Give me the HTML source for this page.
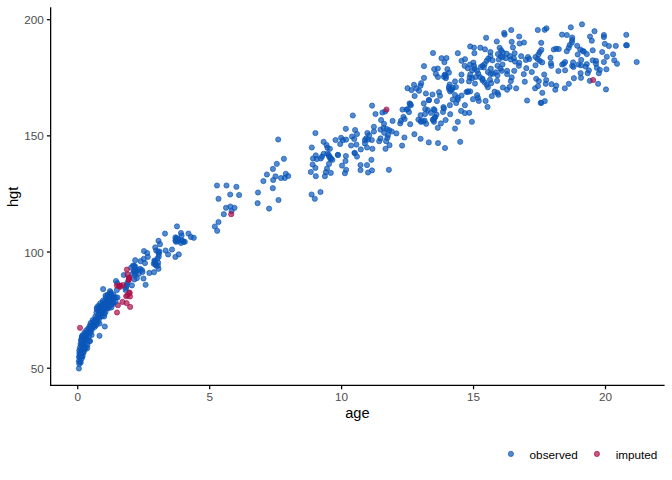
<!DOCTYPE html>
<html><head><meta charset="utf-8"><title>plot</title>
<style>
html,body{margin:0;padding:0;background:#fff;}
svg{display:block;font-family:"Liberation Sans",sans-serif;}
.b{fill:#0B57B8;stroke:#0B57B8;}
.r{fill:#A80F4A;stroke:#A80F4A;}
</style></head><body>
<svg width="672" height="480" viewBox="0 0 672 480">
<rect width="672" height="480" fill="#fff"/>
<g fill-opacity="0.7" stroke-opacity="0.7" stroke-width="0.94">
<circle class="r" cx="117.9" cy="305.2" r="2.6"/>
<circle class="b" cx="81.2" cy="340.2" r="2.6"/>
<circle class="b" cx="80.5" cy="344.0" r="2.6"/>
<circle class="b" cx="79.9" cy="347.6" r="2.6"/>
<circle class="b" cx="79.3" cy="350.4" r="2.6"/>
<circle class="b" cx="79.4" cy="353.3" r="2.6"/>
<circle class="b" cx="79.0" cy="356.9" r="2.6"/>
<circle class="b" cx="78.9" cy="361.2" r="2.6"/>
<circle class="b" cx="80.1" cy="361.7" r="2.6"/>
<circle class="b" cx="81.7" cy="358.6" r="2.6"/>
<circle class="b" cx="82.6" cy="356.3" r="2.6"/>
<circle class="b" cx="83.5" cy="352.8" r="2.6"/>
<circle class="b" cx="84.7" cy="350.0" r="2.6"/>
<circle class="b" cx="85.6" cy="347.5" r="2.6"/>
<circle class="b" cx="85.9" cy="344.0" r="2.6"/>
<circle class="b" cx="87.6" cy="339.8" r="2.6"/>
<circle class="b" cx="88.9" cy="336.4" r="2.6"/>
<circle class="b" cx="90.2" cy="333.0" r="2.6"/>
<circle class="b" cx="91.6" cy="330.4" r="2.6"/>
<circle class="b" cx="94.6" cy="327.1" r="2.6"/>
<circle class="b" cx="96.1" cy="325.2" r="2.6"/>
<circle class="b" cx="97.8" cy="322.1" r="2.6"/>
<circle class="b" cx="99.5" cy="318.3" r="2.6"/>
<circle class="b" cx="101.9" cy="316.2" r="2.6"/>
<circle class="b" cx="104.6" cy="314.0" r="2.6"/>
<circle class="b" cx="105.6" cy="311.7" r="2.6"/>
<circle class="b" cx="108.8" cy="308.1" r="2.6"/>
<circle class="b" cx="111.4" cy="307.4" r="2.6"/>
<circle class="b" cx="113.6" cy="303.8" r="2.6"/>
<circle class="b" cx="115.4" cy="301.4" r="2.6"/>
<circle class="b" cx="115.8" cy="297.5" r="2.6"/>
<circle class="b" cx="113.6" cy="294.7" r="2.6"/>
<circle class="b" cx="110.7" cy="292.3" r="2.6"/>
<circle class="b" cx="107.7" cy="294.6" r="2.6"/>
<circle class="b" cx="105.6" cy="297.5" r="2.6"/>
<circle class="b" cx="102.8" cy="300.8" r="2.6"/>
<circle class="b" cx="100.2" cy="303.4" r="2.6"/>
<circle class="b" cx="98.1" cy="306.0" r="2.6"/>
<circle class="b" cx="96.9" cy="309.2" r="2.6"/>
<circle class="b" cx="96.4" cy="312.5" r="2.6"/>
<circle class="b" cx="95.3" cy="316.7" r="2.6"/>
<circle class="b" cx="92.6" cy="320.2" r="2.6"/>
<circle class="b" cx="90.6" cy="323.1" r="2.6"/>
<circle class="b" cx="89.9" cy="325.6" r="2.6"/>
<circle class="b" cx="88.4" cy="328.1" r="2.6"/>
<circle class="b" cx="86.3" cy="330.3" r="2.6"/>
<circle class="b" cx="84.5" cy="332.6" r="2.6"/>
<circle class="b" cx="82.4" cy="335.3" r="2.6"/>
<circle class="b" cx="81.7" cy="337.7" r="2.6"/>
<circle class="b" cx="109.3" cy="295.6" r="2.6"/>
<circle class="b" cx="110.6" cy="295.2" r="2.6"/>
<circle class="b" cx="109.0" cy="295.4" r="2.6"/>
<circle class="b" cx="110.5" cy="295.6" r="2.6"/>
<circle class="b" cx="111.3" cy="297.0" r="2.6"/>
<circle class="b" cx="108.3" cy="298.0" r="2.6"/>
<circle class="b" cx="109.6" cy="298.2" r="2.6"/>
<circle class="b" cx="110.6" cy="298.0" r="2.6"/>
<circle class="b" cx="112.5" cy="297.4" r="2.6"/>
<circle class="b" cx="113.9" cy="297.5" r="2.6"/>
<circle class="b" cx="107.1" cy="298.7" r="2.6"/>
<circle class="b" cx="109.2" cy="298.9" r="2.6"/>
<circle class="b" cx="110.7" cy="300.3" r="2.6"/>
<circle class="b" cx="112.6" cy="299.1" r="2.6"/>
<circle class="b" cx="113.1" cy="299.5" r="2.6"/>
<circle class="b" cx="107.7" cy="300.9" r="2.6"/>
<circle class="b" cx="109.4" cy="300.2" r="2.6"/>
<circle class="b" cx="110.8" cy="300.4" r="2.6"/>
<circle class="b" cx="112.2" cy="300.6" r="2.6"/>
<circle class="b" cx="103.7" cy="302.2" r="2.6"/>
<circle class="b" cx="105.1" cy="303.2" r="2.6"/>
<circle class="b" cx="106.4" cy="302.9" r="2.6"/>
<circle class="b" cx="108.8" cy="302.7" r="2.6"/>
<circle class="b" cx="110.8" cy="303.3" r="2.6"/>
<circle class="b" cx="112.8" cy="302.7" r="2.6"/>
<circle class="b" cx="113.2" cy="302.1" r="2.6"/>
<circle class="b" cx="102.9" cy="303.9" r="2.6"/>
<circle class="b" cx="104.4" cy="304.0" r="2.6"/>
<circle class="b" cx="105.1" cy="303.8" r="2.6"/>
<circle class="b" cx="106.8" cy="304.9" r="2.6"/>
<circle class="b" cx="110.1" cy="303.5" r="2.6"/>
<circle class="b" cx="111.3" cy="304.0" r="2.6"/>
<circle class="b" cx="100.5" cy="306.3" r="2.6"/>
<circle class="b" cx="102.3" cy="306.2" r="2.6"/>
<circle class="b" cx="104.9" cy="306.5" r="2.6"/>
<circle class="b" cx="107.1" cy="306.6" r="2.6"/>
<circle class="b" cx="107.7" cy="305.7" r="2.6"/>
<circle class="b" cx="110.3" cy="305.4" r="2.6"/>
<circle class="b" cx="98.9" cy="308.2" r="2.6"/>
<circle class="b" cx="99.9" cy="306.7" r="2.6"/>
<circle class="b" cx="102.3" cy="307.3" r="2.6"/>
<circle class="b" cx="103.6" cy="306.4" r="2.6"/>
<circle class="b" cx="105.5" cy="307.1" r="2.6"/>
<circle class="b" cx="107.3" cy="307.9" r="2.6"/>
<circle class="b" cx="99.2" cy="308.6" r="2.6"/>
<circle class="b" cx="101.5" cy="308.0" r="2.6"/>
<circle class="b" cx="103.0" cy="309.6" r="2.6"/>
<circle class="b" cx="105.1" cy="308.7" r="2.6"/>
<circle class="b" cx="98.7" cy="310.1" r="2.6"/>
<circle class="b" cx="100.2" cy="310.9" r="2.6"/>
<circle class="b" cx="102.6" cy="309.9" r="2.6"/>
<circle class="b" cx="104.1" cy="309.8" r="2.6"/>
<circle class="b" cx="98.7" cy="311.8" r="2.6"/>
<circle class="b" cx="101.2" cy="311.8" r="2.6"/>
<circle class="b" cx="102.4" cy="311.5" r="2.6"/>
<circle class="b" cx="99.1" cy="312.7" r="2.6"/>
<circle class="b" cx="99.9" cy="312.9" r="2.6"/>
<circle class="b" cx="101.3" cy="312.7" r="2.6"/>
<circle class="b" cx="99.9" cy="315.1" r="2.6"/>
<circle class="b" cx="97.6" cy="317.1" r="2.6"/>
<circle class="b" cx="99.1" cy="317.0" r="2.6"/>
<circle class="b" cx="95.9" cy="319.1" r="2.6"/>
<circle class="b" cx="94.5" cy="320.5" r="2.6"/>
<circle class="b" cx="96.9" cy="320.5" r="2.6"/>
<circle class="b" cx="94.6" cy="322.2" r="2.6"/>
<circle class="b" cx="95.6" cy="321.6" r="2.6"/>
<circle class="b" cx="93.2" cy="322.6" r="2.6"/>
<circle class="b" cx="95.8" cy="322.5" r="2.6"/>
<circle class="b" cx="92.1" cy="325.0" r="2.6"/>
<circle class="b" cx="94.6" cy="325.0" r="2.6"/>
<circle class="b" cx="91.9" cy="325.6" r="2.6"/>
<circle class="b" cx="92.7" cy="326.4" r="2.6"/>
<circle class="b" cx="90.7" cy="327.7" r="2.6"/>
<circle class="b" cx="92.5" cy="327.1" r="2.6"/>
<circle class="b" cx="89.8" cy="328.8" r="2.6"/>
<circle class="b" cx="91.3" cy="328.9" r="2.6"/>
<circle class="b" cx="86.8" cy="332.7" r="2.6"/>
<circle class="b" cx="88.6" cy="331.5" r="2.6"/>
<circle class="b" cx="85.3" cy="334.6" r="2.6"/>
<circle class="b" cx="86.2" cy="334.2" r="2.6"/>
<circle class="b" cx="84.6" cy="335.1" r="2.6"/>
<circle class="b" cx="85.3" cy="336.3" r="2.6"/>
<circle class="b" cx="83.4" cy="337.0" r="2.6"/>
<circle class="b" cx="85.8" cy="336.6" r="2.6"/>
<circle class="b" cx="85.9" cy="337.9" r="2.6"/>
<circle class="b" cx="84.1" cy="338.1" r="2.6"/>
<circle class="b" cx="85.8" cy="339.3" r="2.6"/>
<circle class="b" cx="84.6" cy="340.7" r="2.6"/>
<circle class="b" cx="83.4" cy="341.8" r="2.6"/>
<circle class="b" cx="81.9" cy="343.9" r="2.6"/>
<circle class="b" cx="83.4" cy="343.1" r="2.6"/>
<circle class="b" cx="81.7" cy="344.5" r="2.6"/>
<circle class="b" cx="83.6" cy="345.6" r="2.6"/>
<circle class="b" cx="82.0" cy="345.8" r="2.6"/>
<circle class="b" cx="83.1" cy="346.2" r="2.6"/>
<circle class="b" cx="81.8" cy="347.6" r="2.6"/>
<circle class="b" cx="84.1" cy="347.8" r="2.6"/>
<circle class="b" cx="81.5" cy="350.1" r="2.6"/>
<circle class="b" cx="83.4" cy="349.1" r="2.6"/>
<circle class="b" cx="82.6" cy="350.6" r="2.6"/>
<circle class="b" cx="80.5" cy="352.4" r="2.6"/>
<circle class="b" cx="82.4" cy="352.7" r="2.6"/>
<circle class="b" cx="80.6" cy="354.2" r="2.6"/>
<circle class="b" cx="82.0" cy="354.1" r="2.6"/>
<circle class="b" cx="80.3" cy="356.1" r="2.6"/>
<circle class="b" cx="81.6" cy="356.5" r="2.6"/>
<circle class="b" cx="80.1" cy="357.3" r="2.6"/>
<circle class="b" cx="78.9" cy="368.5" r="2.6"/>
<circle class="b" cx="89.6" cy="341.0" r="2.6"/>
<circle class="b" cx="79.3" cy="363.9" r="2.6"/>
<circle class="b" cx="80.7" cy="362.5" r="2.6"/>
<circle class="b" cx="87.5" cy="345.0" r="2.6"/>
<circle class="b" cx="87.2" cy="348.3" r="2.6"/>
<circle class="b" cx="104.8" cy="326.5" r="2.6"/>
<circle class="b" cx="99.5" cy="335.8" r="2.6"/>
<circle class="b" cx="96.8" cy="307.8" r="2.6"/>
<circle class="b" cx="104.1" cy="316.5" r="2.6"/>
<circle class="b" cx="99.5" cy="323.5" r="2.6"/>
<circle class="b" cx="90.0" cy="341.0" r="2.6"/>
<circle class="b" cx="82.0" cy="336.5" r="2.6"/>
<circle class="b" cx="81.2" cy="340.2" r="2.6"/>
<circle class="b" cx="91.6" cy="335.0" r="2.6"/>
<circle class="b" cx="103.1" cy="289.1" r="2.6"/>
<circle class="b" cx="116.0" cy="281.0" r="2.6"/>
<circle class="b" cx="117.2" cy="283.1" r="2.6"/>
<circle class="b" cx="123.8" cy="275.0" r="2.6"/>
<circle class="b" cx="135.2" cy="260.2" r="2.6"/>
<circle class="b" cx="133.1" cy="265.6" r="2.6"/>
<circle class="b" cx="131.2" cy="267.5" r="2.6"/>
<circle class="b" cx="135.0" cy="266.2" r="2.6"/>
<circle class="b" cx="134.4" cy="271.2" r="2.6"/>
<circle class="b" cx="135.6" cy="273.1" r="2.6"/>
<circle class="b" cx="132.5" cy="273.8" r="2.6"/>
<circle class="b" cx="141.9" cy="270.0" r="2.6"/>
<circle class="b" cx="142.5" cy="271.9" r="2.6"/>
<circle class="b" cx="140.6" cy="261.2" r="2.6"/>
<circle class="b" cx="143.8" cy="258.8" r="2.6"/>
<circle class="b" cx="145.0" cy="263.1" r="2.6"/>
<circle class="b" cx="147.8" cy="256.9" r="2.6"/>
<circle class="b" cx="168.1" cy="254.4" r="2.6"/>
<circle class="b" cx="154.4" cy="260.6" r="2.6"/>
<circle class="b" cx="153.8" cy="263.8" r="2.6"/>
<circle class="b" cx="156.2" cy="265.6" r="2.6"/>
<circle class="b" cx="158.5" cy="268.8" r="2.6"/>
<circle class="b" cx="158.1" cy="262.5" r="2.6"/>
<circle class="b" cx="149.4" cy="272.9" r="2.6"/>
<circle class="b" cx="154.0" cy="272.2" r="2.6"/>
<circle class="b" cx="143.5" cy="278.5" r="2.6"/>
<circle class="b" cx="145.6" cy="284.8" r="2.6"/>
<circle class="b" cx="136.9" cy="278.1" r="2.6"/>
<circle class="b" cx="134.4" cy="279.4" r="2.6"/>
<circle class="b" cx="131.9" cy="285.4" r="2.6"/>
<circle class="b" cx="126.2" cy="286.2" r="2.6"/>
<circle class="b" cx="127.5" cy="282.5" r="2.6"/>
<circle class="b" cx="125.6" cy="290.0" r="2.6"/>
<circle class="b" cx="116.9" cy="290.0" r="2.6"/>
<circle class="b" cx="110.0" cy="291.2" r="2.6"/>
<circle class="b" cx="110.6" cy="293.8" r="2.6"/>
<circle class="b" cx="105.6" cy="295.6" r="2.6"/>
<circle class="b" cx="108.8" cy="297.5" r="2.6"/>
<circle class="b" cx="112.5" cy="296.9" r="2.6"/>
<circle class="b" cx="117.5" cy="297.5" r="2.6"/>
<circle class="b" cx="175.4" cy="256.9" r="2.6"/>
<circle class="b" cx="178.8" cy="254.4" r="2.6"/>
<circle class="b" cx="165.0" cy="233.6" r="2.6"/>
<circle class="b" cx="158.5" cy="240.8" r="2.6"/>
<circle class="b" cx="160.0" cy="244.2" r="2.6"/>
<circle class="b" cx="155.2" cy="247.4" r="2.6"/>
<circle class="b" cx="156.2" cy="250.5" r="2.6"/>
<circle class="b" cx="159.4" cy="251.5" r="2.6"/>
<circle class="b" cx="158.8" cy="253.8" r="2.6"/>
<circle class="b" cx="144.0" cy="251.1" r="2.6"/>
<circle class="b" cx="147.2" cy="253.0" r="2.6"/>
<circle class="b" cx="165.6" cy="250.5" r="2.6"/>
<circle class="b" cx="177.0" cy="226.4" r="2.6"/>
<circle class="b" cx="181.0" cy="233.0" r="2.6"/>
<circle class="b" cx="181.6" cy="235.5" r="2.6"/>
<circle class="b" cx="175.4" cy="237.4" r="2.6"/>
<circle class="b" cx="176.6" cy="239.2" r="2.6"/>
<circle class="b" cx="176.0" cy="241.8" r="2.6"/>
<circle class="b" cx="178.5" cy="239.2" r="2.6"/>
<circle class="b" cx="182.9" cy="241.1" r="2.6"/>
<circle class="b" cx="184.8" cy="241.8" r="2.6"/>
<circle class="b" cx="181.0" cy="243.0" r="2.6"/>
<circle class="b" cx="188.5" cy="233.6" r="2.6"/>
<circle class="b" cx="191.0" cy="237.0" r="2.6"/>
<circle class="b" cx="193.8" cy="237.8" r="2.6"/>
<circle class="b" cx="172.0" cy="249.5" r="2.6"/>
<circle class="b" cx="218.5" cy="222.0" r="2.6"/>
<circle class="b" cx="214.8" cy="226.5" r="2.6"/>
<circle class="b" cx="217.2" cy="230.8" r="2.6"/>
<circle class="b" cx="223.8" cy="214.2" r="2.6"/>
<circle class="b" cx="226.0" cy="207.8" r="2.6"/>
<circle class="b" cx="230.4" cy="206.5" r="2.6"/>
<circle class="b" cx="234.5" cy="207.8" r="2.6"/>
<circle class="b" cx="231.6" cy="211.1" r="2.6"/>
<circle class="b" cx="257.6" cy="203.2" r="2.6"/>
<circle class="b" cx="269.1" cy="208.6" r="2.6"/>
<circle class="b" cx="217.0" cy="185.5" r="2.6"/>
<circle class="b" cx="226.5" cy="185.5" r="2.6"/>
<circle class="b" cx="236.4" cy="186.8" r="2.6"/>
<circle class="b" cx="230.2" cy="194.5" r="2.6"/>
<circle class="b" cx="239.1" cy="195.0" r="2.6"/>
<circle class="b" cx="218.5" cy="198.8" r="2.6"/>
<circle class="b" cx="283.9" cy="158.8" r="2.6"/>
<circle class="b" cx="276.8" cy="163.8" r="2.6"/>
<circle class="b" cx="272.9" cy="168.9" r="2.6"/>
<circle class="b" cx="266.9" cy="174.5" r="2.6"/>
<circle class="b" cx="263.4" cy="181.1" r="2.6"/>
<circle class="b" cx="275.5" cy="176.4" r="2.6"/>
<circle class="b" cx="273.2" cy="180.0" r="2.6"/>
<circle class="b" cx="281.0" cy="178.0" r="2.6"/>
<circle class="b" cx="284.8" cy="177.9" r="2.6"/>
<circle class="b" cx="285.8" cy="173.8" r="2.6"/>
<circle class="b" cx="288.2" cy="176.0" r="2.6"/>
<circle class="b" cx="272.8" cy="188.2" r="2.6"/>
<circle class="b" cx="258.0" cy="192.5" r="2.6"/>
<circle class="b" cx="278.5" cy="200.0" r="2.6"/>
<circle class="b" cx="315.8" cy="155.4" r="2.6"/>
<circle class="b" cx="313.0" cy="158.5" r="2.6"/>
<circle class="b" cx="316.8" cy="159.1" r="2.6"/>
<circle class="b" cx="320.8" cy="158.5" r="2.6"/>
<circle class="b" cx="322.0" cy="156.6" r="2.6"/>
<circle class="b" cx="312.6" cy="164.5" r="2.6"/>
<circle class="b" cx="315.4" cy="167.9" r="2.6"/>
<circle class="b" cx="310.8" cy="172.0" r="2.6"/>
<circle class="b" cx="315.8" cy="176.2" r="2.6"/>
<circle class="b" cx="311.6" cy="194.5" r="2.6"/>
<circle class="b" cx="314.8" cy="198.8" r="2.6"/>
<circle class="b" cx="320.5" cy="192.0" r="2.6"/>
<circle class="b" cx="323.6" cy="153.8" r="2.6"/>
<circle class="b" cx="327.4" cy="153.5" r="2.6"/>
<circle class="b" cx="329.2" cy="156.6" r="2.6"/>
<circle class="b" cx="330.5" cy="159.1" r="2.6"/>
<circle class="b" cx="332.4" cy="159.8" r="2.6"/>
<circle class="b" cx="337.8" cy="154.8" r="2.6"/>
<circle class="b" cx="345.9" cy="156.0" r="2.6"/>
<circle class="b" cx="345.5" cy="161.0" r="2.6"/>
<circle class="b" cx="342.0" cy="165.6" r="2.6"/>
<circle class="b" cx="346.1" cy="169.8" r="2.6"/>
<circle class="b" cx="344.9" cy="173.2" r="2.6"/>
<circle class="b" cx="329.0" cy="163.9" r="2.6"/>
<circle class="b" cx="327.0" cy="168.5" r="2.6"/>
<circle class="b" cx="325.8" cy="172.2" r="2.6"/>
<circle class="b" cx="330.8" cy="172.9" r="2.6"/>
<circle class="b" cx="324.9" cy="176.2" r="2.6"/>
<circle class="b" cx="354.5" cy="152.9" r="2.6"/>
<circle class="b" cx="357.0" cy="156.6" r="2.6"/>
<circle class="b" cx="360.5" cy="165.0" r="2.6"/>
<circle class="b" cx="360.5" cy="170.1" r="2.6"/>
<circle class="b" cx="367.0" cy="165.1" r="2.6"/>
<circle class="b" cx="371.4" cy="159.8" r="2.6"/>
<circle class="b" cx="368.0" cy="172.5" r="2.6"/>
<circle class="b" cx="372.0" cy="170.4" r="2.6"/>
<circle class="b" cx="388.9" cy="169.8" r="2.6"/>
<circle class="b" cx="278.2" cy="139.5" r="2.6"/>
<circle class="b" cx="315.4" cy="133.1" r="2.6"/>
<circle class="b" cx="311.8" cy="147.5" r="2.6"/>
<circle class="b" cx="372.1" cy="105.6" r="2.6"/>
<circle class="b" cx="375.5" cy="114.0" r="2.6"/>
<circle class="b" cx="382.4" cy="112.5" r="2.6"/>
<circle class="b" cx="385.2" cy="111.5" r="2.6"/>
<circle class="b" cx="352.8" cy="115.5" r="2.6"/>
<circle class="b" cx="381.1" cy="120.0" r="2.6"/>
<circle class="b" cx="384.0" cy="123.8" r="2.6"/>
<circle class="b" cx="392.6" cy="120.9" r="2.6"/>
<circle class="b" cx="345.8" cy="128.8" r="2.6"/>
<circle class="b" cx="355.1" cy="130.0" r="2.6"/>
<circle class="b" cx="357.0" cy="134.0" r="2.6"/>
<circle class="b" cx="352.0" cy="136.5" r="2.6"/>
<circle class="b" cx="354.2" cy="139.0" r="2.6"/>
<circle class="b" cx="373.9" cy="126.8" r="2.6"/>
<circle class="b" cx="373.9" cy="131.5" r="2.6"/>
<circle class="b" cx="367.4" cy="133.0" r="2.6"/>
<circle class="b" cx="369.2" cy="135.2" r="2.6"/>
<circle class="b" cx="380.5" cy="129.6" r="2.6"/>
<circle class="b" cx="383.6" cy="127.8" r="2.6"/>
<circle class="b" cx="386.8" cy="129.0" r="2.6"/>
<circle class="b" cx="389.2" cy="130.2" r="2.6"/>
<circle class="b" cx="391.8" cy="131.5" r="2.6"/>
<circle class="b" cx="384.2" cy="132.8" r="2.6"/>
<circle class="b" cx="388.0" cy="135.2" r="2.6"/>
<circle class="b" cx="396.4" cy="133.4" r="2.6"/>
<circle class="b" cx="387.4" cy="137.8" r="2.6"/>
<circle class="b" cx="380.5" cy="138.4" r="2.6"/>
<circle class="b" cx="379.2" cy="141.2" r="2.6"/>
<circle class="b" cx="386.1" cy="141.2" r="2.6"/>
<circle class="b" cx="366.1" cy="138.4" r="2.6"/>
<circle class="b" cx="368.0" cy="139.6" r="2.6"/>
<circle class="b" cx="364.9" cy="140.2" r="2.6"/>
<circle class="b" cx="371.8" cy="140.0" r="2.6"/>
<circle class="b" cx="364.9" cy="143.4" r="2.6"/>
<circle class="b" cx="341.1" cy="137.8" r="2.6"/>
<circle class="b" cx="343.0" cy="140.2" r="2.6"/>
<circle class="b" cx="346.1" cy="139.6" r="2.6"/>
<circle class="b" cx="335.5" cy="140.0" r="2.6"/>
<circle class="b" cx="340.2" cy="144.0" r="2.6"/>
<circle class="b" cx="323.6" cy="141.8" r="2.6"/>
<circle class="b" cx="326.5" cy="145.0" r="2.6"/>
<circle class="b" cx="327.4" cy="147.8" r="2.6"/>
<circle class="b" cx="329.9" cy="148.8" r="2.6"/>
<circle class="b" cx="351.1" cy="145.5" r="2.6"/>
<circle class="b" cx="356.4" cy="144.6" r="2.6"/>
<circle class="b" cx="360.8" cy="149.4" r="2.6"/>
<circle class="b" cx="367.0" cy="147.5" r="2.6"/>
<circle class="b" cx="372.4" cy="148.8" r="2.6"/>
<circle class="b" cx="385.5" cy="148.8" r="2.6"/>
<circle class="b" cx="389.5" cy="145.2" r="2.6"/>
<circle class="b" cx="402.5" cy="109.6" r="2.6"/>
<circle class="b" cx="406.5" cy="109.6" r="2.6"/>
<circle class="b" cx="409.0" cy="112.1" r="2.6"/>
<circle class="b" cx="409.6" cy="103.4" r="2.6"/>
<circle class="b" cx="410.9" cy="105.2" r="2.6"/>
<circle class="b" cx="403.4" cy="116.9" r="2.6"/>
<circle class="b" cx="404.6" cy="119.0" r="2.6"/>
<circle class="b" cx="400.9" cy="120.9" r="2.6"/>
<circle class="b" cx="400.2" cy="123.4" r="2.6"/>
<circle class="b" cx="410.2" cy="124.2" r="2.6"/>
<circle class="b" cx="404.4" cy="137.5" r="2.6"/>
<circle class="b" cx="402.1" cy="145.6" r="2.6"/>
<circle class="b" cx="414.4" cy="134.2" r="2.6"/>
<circle class="b" cx="420.6" cy="138.8" r="2.6"/>
<circle class="b" cx="428.8" cy="142.4" r="2.6"/>
<circle class="b" cx="438.0" cy="143.1" r="2.6"/>
<circle class="b" cx="445.0" cy="148.0" r="2.6"/>
<circle class="b" cx="460.2" cy="141.8" r="2.6"/>
<circle class="b" cx="455.0" cy="128.6" r="2.6"/>
<circle class="b" cx="457.8" cy="121.8" r="2.6"/>
<circle class="b" cx="471.9" cy="121.8" r="2.6"/>
<circle class="b" cx="437.8" cy="127.8" r="2.6"/>
<circle class="b" cx="440.9" cy="123.4" r="2.6"/>
<circle class="b" cx="445.6" cy="120.0" r="2.6"/>
<circle class="b" cx="450.2" cy="114.2" r="2.6"/>
<circle class="b" cx="423.8" cy="103.4" r="2.6"/>
<circle class="b" cx="428.8" cy="100.0" r="2.6"/>
<circle class="b" cx="436.9" cy="101.1" r="2.6"/>
<circle class="b" cx="425.2" cy="109.0" r="2.6"/>
<circle class="b" cx="427.8" cy="110.0" r="2.6"/>
<circle class="b" cx="425.0" cy="114.0" r="2.6"/>
<circle class="b" cx="420.6" cy="115.2" r="2.6"/>
<circle class="b" cx="430.9" cy="112.8" r="2.6"/>
<circle class="b" cx="433.8" cy="109.2" r="2.6"/>
<circle class="b" cx="434.6" cy="110.2" r="2.6"/>
<circle class="b" cx="418.4" cy="119.6" r="2.6"/>
<circle class="b" cx="420.9" cy="121.8" r="2.6"/>
<circle class="b" cx="424.6" cy="120.5" r="2.6"/>
<circle class="b" cx="426.2" cy="123.8" r="2.6"/>
<circle class="b" cx="436.5" cy="114.6" r="2.6"/>
<circle class="b" cx="435.2" cy="117.1" r="2.6"/>
<circle class="b" cx="432.8" cy="119.6" r="2.6"/>
<circle class="b" cx="434.0" cy="121.8" r="2.6"/>
<circle class="b" cx="443.4" cy="107.1" r="2.6"/>
<circle class="b" cx="444.0" cy="108.4" r="2.6"/>
<circle class="b" cx="443.0" cy="111.9" r="2.6"/>
<circle class="b" cx="449.9" cy="105.2" r="2.6"/>
<circle class="b" cx="452.8" cy="99.6" r="2.6"/>
<circle class="b" cx="456.2" cy="103.0" r="2.6"/>
<circle class="b" cx="457.8" cy="99.6" r="2.6"/>
<circle class="b" cx="464.9" cy="105.2" r="2.6"/>
<circle class="b" cx="461.1" cy="110.9" r="2.6"/>
<circle class="b" cx="464.9" cy="113.1" r="2.6"/>
<circle class="b" cx="469.2" cy="112.8" r="2.6"/>
<circle class="b" cx="473.0" cy="99.2" r="2.6"/>
<circle class="b" cx="478.8" cy="100.9" r="2.6"/>
<circle class="b" cx="485.6" cy="100.9" r="2.6"/>
<circle class="b" cx="487.5" cy="106.9" r="2.6"/>
<circle class="b" cx="527.1" cy="100.5" r="2.6"/>
<circle class="b" cx="540.8" cy="102.8" r="2.6"/>
<circle class="b" cx="541.2" cy="102.9" r="2.6"/>
<circle class="b" cx="544.8" cy="101.1" r="2.6"/>
<circle class="b" cx="433.0" cy="53.0" r="2.6"/>
<circle class="b" cx="457.8" cy="53.2" r="2.6"/>
<circle class="b" cx="441.5" cy="58.2" r="2.6"/>
<circle class="b" cx="446.5" cy="58.0" r="2.6"/>
<circle class="b" cx="444.4" cy="62.2" r="2.6"/>
<circle class="b" cx="424.0" cy="66.1" r="2.6"/>
<circle class="b" cx="434.2" cy="69.1" r="2.6"/>
<circle class="b" cx="437.8" cy="68.5" r="2.6"/>
<circle class="b" cx="435.9" cy="73.9" r="2.6"/>
<circle class="b" cx="438.0" cy="77.0" r="2.6"/>
<circle class="b" cx="447.4" cy="69.2" r="2.6"/>
<circle class="b" cx="449.0" cy="72.6" r="2.6"/>
<circle class="b" cx="445.2" cy="74.5" r="2.6"/>
<circle class="b" cx="444.0" cy="76.8" r="2.6"/>
<circle class="b" cx="445.9" cy="78.2" r="2.6"/>
<circle class="b" cx="424.0" cy="77.9" r="2.6"/>
<circle class="b" cx="461.5" cy="60.8" r="2.6"/>
<circle class="b" cx="465.0" cy="59.2" r="2.6"/>
<circle class="b" cx="464.6" cy="65.8" r="2.6"/>
<circle class="b" cx="467.8" cy="68.2" r="2.6"/>
<circle class="b" cx="470.0" cy="64.5" r="2.6"/>
<circle class="b" cx="473.4" cy="62.6" r="2.6"/>
<circle class="b" cx="474.0" cy="65.8" r="2.6"/>
<circle class="b" cx="470.2" cy="46.4" r="2.6"/>
<circle class="b" cx="474.0" cy="47.6" r="2.6"/>
<circle class="b" cx="474.4" cy="53.2" r="2.6"/>
<circle class="b" cx="461.5" cy="74.5" r="2.6"/>
<circle class="b" cx="461.5" cy="80.8" r="2.6"/>
<circle class="b" cx="455.0" cy="81.4" r="2.6"/>
<circle class="b" cx="470.2" cy="74.5" r="2.6"/>
<circle class="b" cx="469.6" cy="77.6" r="2.6"/>
<circle class="b" cx="469.0" cy="81.4" r="2.6"/>
<circle class="b" cx="472.1" cy="78.2" r="2.6"/>
<circle class="b" cx="449.6" cy="84.5" r="2.6"/>
<circle class="b" cx="449.0" cy="88.9" r="2.6"/>
<circle class="b" cx="452.8" cy="87.6" r="2.6"/>
<circle class="b" cx="455.9" cy="87.0" r="2.6"/>
<circle class="b" cx="450.2" cy="91.4" r="2.6"/>
<circle class="b" cx="467.8" cy="91.4" r="2.6"/>
<circle class="b" cx="466.5" cy="92.0" r="2.6"/>
<circle class="b" cx="470.2" cy="91.4" r="2.6"/>
<circle class="b" cx="414.0" cy="84.8" r="2.6"/>
<circle class="b" cx="421.2" cy="83.2" r="2.6"/>
<circle class="b" cx="420.5" cy="85.8" r="2.6"/>
<circle class="b" cx="407.5" cy="88.2" r="2.6"/>
<circle class="b" cx="411.5" cy="90.1" r="2.6"/>
<circle class="b" cx="416.5" cy="88.5" r="2.6"/>
<circle class="b" cx="419.0" cy="90.8" r="2.6"/>
<circle class="b" cx="414.6" cy="96.0" r="2.6"/>
<circle class="b" cx="425.9" cy="93.5" r="2.6"/>
<circle class="b" cx="432.5" cy="94.5" r="2.6"/>
<circle class="b" cx="439.0" cy="92.2" r="2.6"/>
<circle class="b" cx="440.0" cy="95.8" r="2.6"/>
<circle class="b" cx="455.0" cy="95.1" r="2.6"/>
<circle class="b" cx="461.5" cy="95.5" r="2.6"/>
<circle class="b" cx="457.8" cy="97.6" r="2.6"/>
<circle class="b" cx="480.4" cy="47.7" r="2.6"/>
<circle class="b" cx="485.0" cy="49.3" r="2.6"/>
<circle class="b" cx="490.4" cy="52.0" r="2.6"/>
<circle class="b" cx="499.6" cy="47.8" r="2.6"/>
<circle class="b" cx="501.2" cy="50.3" r="2.6"/>
<circle class="b" cx="502.9" cy="52.4" r="2.6"/>
<circle class="b" cx="497.9" cy="54.1" r="2.6"/>
<circle class="b" cx="498.8" cy="59.5" r="2.6"/>
<circle class="b" cx="500.8" cy="56.2" r="2.6"/>
<circle class="b" cx="502.5" cy="57.4" r="2.6"/>
<circle class="b" cx="506.7" cy="53.7" r="2.6"/>
<circle class="b" cx="505.8" cy="58.2" r="2.6"/>
<circle class="b" cx="510.0" cy="56.2" r="2.6"/>
<circle class="b" cx="510.8" cy="59.5" r="2.6"/>
<circle class="b" cx="514.6" cy="53.2" r="2.6"/>
<circle class="b" cx="512.9" cy="47.4" r="2.6"/>
<circle class="b" cx="513.8" cy="58.2" r="2.6"/>
<circle class="b" cx="515.0" cy="61.6" r="2.6"/>
<circle class="b" cx="521.2" cy="56.2" r="2.6"/>
<circle class="b" cx="519.2" cy="62.8" r="2.6"/>
<circle class="b" cx="518.8" cy="65.8" r="2.6"/>
<circle class="b" cx="490.4" cy="56.2" r="2.6"/>
<circle class="b" cx="488.3" cy="58.7" r="2.6"/>
<circle class="b" cx="486.7" cy="60.8" r="2.6"/>
<circle class="b" cx="492.5" cy="60.3" r="2.6"/>
<circle class="b" cx="484.6" cy="64.1" r="2.6"/>
<circle class="b" cx="482.5" cy="65.8" r="2.6"/>
<circle class="b" cx="480.8" cy="67.0" r="2.6"/>
<circle class="b" cx="483.8" cy="67.4" r="2.6"/>
<circle class="b" cx="474.6" cy="68.7" r="2.6"/>
<circle class="b" cx="477.1" cy="70.8" r="2.6"/>
<circle class="b" cx="478.3" cy="73.7" r="2.6"/>
<circle class="b" cx="472.1" cy="70.3" r="2.6"/>
<circle class="b" cx="475.8" cy="77.0" r="2.6"/>
<circle class="b" cx="480.0" cy="77.0" r="2.6"/>
<circle class="b" cx="482.5" cy="78.7" r="2.6"/>
<circle class="b" cx="497.5" cy="65.8" r="2.6"/>
<circle class="b" cx="502.5" cy="64.5" r="2.6"/>
<circle class="b" cx="500.4" cy="68.7" r="2.6"/>
<circle class="b" cx="501.7" cy="70.8" r="2.6"/>
<circle class="b" cx="490.8" cy="68.7" r="2.6"/>
<circle class="b" cx="487.9" cy="72.0" r="2.6"/>
<circle class="b" cx="490.4" cy="74.1" r="2.6"/>
<circle class="b" cx="492.9" cy="73.7" r="2.6"/>
<circle class="b" cx="495.8" cy="72.4" r="2.6"/>
<circle class="b" cx="497.5" cy="75.3" r="2.6"/>
<circle class="b" cx="507.1" cy="70.8" r="2.6"/>
<circle class="b" cx="507.1" cy="74.1" r="2.6"/>
<circle class="b" cx="514.2" cy="70.8" r="2.6"/>
<circle class="b" cx="511.7" cy="77.4" r="2.6"/>
<circle class="b" cx="528.0" cy="57.0" r="2.6"/>
<circle class="b" cx="525.9" cy="59.9" r="2.6"/>
<circle class="b" cx="529.2" cy="59.1" r="2.6"/>
<circle class="b" cx="526.3" cy="68.2" r="2.6"/>
<circle class="b" cx="523.8" cy="74.1" r="2.6"/>
<circle class="b" cx="531.8" cy="72.0" r="2.6"/>
<circle class="b" cx="541.3" cy="49.9" r="2.6"/>
<circle class="b" cx="539.7" cy="52.0" r="2.6"/>
<circle class="b" cx="538.4" cy="54.5" r="2.6"/>
<circle class="b" cx="535.5" cy="57.0" r="2.6"/>
<circle class="b" cx="537.6" cy="59.1" r="2.6"/>
<circle class="b" cx="539.7" cy="60.8" r="2.6"/>
<circle class="b" cx="542.2" cy="62.4" r="2.6"/>
<circle class="b" cx="535.5" cy="65.3" r="2.6"/>
<circle class="b" cx="550.5" cy="57.7" r="2.6"/>
<circle class="b" cx="550.9" cy="63.2" r="2.6"/>
<circle class="b" cx="551.3" cy="65.8" r="2.6"/>
<circle class="b" cx="553.8" cy="49.5" r="2.6"/>
<circle class="b" cx="556.3" cy="48.7" r="2.6"/>
<circle class="b" cx="558.8" cy="49.1" r="2.6"/>
<circle class="b" cx="566.8" cy="51.2" r="2.6"/>
<circle class="b" cx="568.8" cy="47.8" r="2.6"/>
<circle class="b" cx="565.1" cy="62.0" r="2.6"/>
<circle class="b" cx="562.2" cy="64.5" r="2.6"/>
<circle class="b" cx="563.8" cy="63.7" r="2.6"/>
<circle class="b" cx="558.4" cy="71.0" r="2.6"/>
<circle class="b" cx="565.1" cy="70.3" r="2.6"/>
<circle class="b" cx="544.2" cy="74.5" r="2.6"/>
<circle class="b" cx="577.2" cy="45.8" r="2.6"/>
<circle class="b" cx="580.2" cy="49.5" r="2.6"/>
<circle class="b" cx="582.7" cy="50.8" r="2.6"/>
<circle class="b" cx="583.9" cy="51.6" r="2.6"/>
<circle class="b" cx="577.7" cy="54.5" r="2.6"/>
<circle class="b" cx="586.8" cy="54.1" r="2.6"/>
<circle class="b" cx="592.7" cy="50.3" r="2.6"/>
<circle class="b" cx="581.2" cy="59.9" r="2.6"/>
<circle class="b" cx="573.1" cy="62.4" r="2.6"/>
<circle class="b" cx="572.2" cy="65.8" r="2.6"/>
<circle class="b" cx="573.5" cy="67.0" r="2.6"/>
<circle class="b" cx="578.5" cy="64.5" r="2.6"/>
<circle class="b" cx="581.0" cy="65.3" r="2.6"/>
<circle class="b" cx="586.8" cy="64.1" r="2.6"/>
<circle class="b" cx="585.6" cy="66.6" r="2.6"/>
<circle class="b" cx="592.7" cy="60.3" r="2.6"/>
<circle class="b" cx="596.0" cy="60.8" r="2.6"/>
<circle class="b" cx="596.0" cy="63.7" r="2.6"/>
<circle class="b" cx="596.8" cy="67.8" r="2.6"/>
<circle class="b" cx="599.8" cy="69.9" r="2.6"/>
<circle class="b" cx="598.9" cy="73.2" r="2.6"/>
<circle class="b" cx="588.9" cy="70.3" r="2.6"/>
<circle class="b" cx="587.7" cy="73.2" r="2.6"/>
<circle class="b" cx="580.6" cy="73.2" r="2.6"/>
<circle class="b" cx="581.0" cy="77.8" r="2.6"/>
<circle class="b" cx="602.2" cy="52.0" r="2.6"/>
<circle class="b" cx="606.8" cy="56.8" r="2.6"/>
<circle class="b" cx="603.9" cy="62.0" r="2.6"/>
<circle class="b" cx="606.4" cy="69.3" r="2.6"/>
<circle class="b" cx="613.1" cy="54.3" r="2.6"/>
<circle class="b" cx="614.3" cy="60.3" r="2.6"/>
<circle class="b" cx="617.0" cy="63.8" r="2.6"/>
<circle class="b" cx="608.9" cy="46.0" r="2.6"/>
<circle class="b" cx="615.8" cy="45.9" r="2.6"/>
<circle class="b" cx="636.7" cy="62.0" r="2.6"/>
<circle class="b" cx="475.0" cy="83.6" r="2.6"/>
<circle class="b" cx="482.5" cy="80.2" r="2.6"/>
<circle class="b" cx="484.6" cy="82.3" r="2.6"/>
<circle class="b" cx="486.7" cy="84.8" r="2.6"/>
<circle class="b" cx="487.9" cy="87.3" r="2.6"/>
<circle class="b" cx="491.2" cy="83.2" r="2.6"/>
<circle class="b" cx="490.0" cy="79.8" r="2.6"/>
<circle class="b" cx="497.1" cy="80.8" r="2.6"/>
<circle class="b" cx="510.8" cy="81.1" r="2.6"/>
<circle class="b" cx="502.9" cy="87.5" r="2.6"/>
<circle class="b" cx="507.1" cy="89.7" r="2.6"/>
<circle class="b" cx="509.6" cy="86.9" r="2.6"/>
<circle class="b" cx="516.2" cy="88.3" r="2.6"/>
<circle class="b" cx="494.6" cy="91.7" r="2.6"/>
<circle class="b" cx="497.5" cy="92.8" r="2.6"/>
<circle class="b" cx="498.3" cy="94.8" r="2.6"/>
<circle class="b" cx="491.8" cy="96.1" r="2.6"/>
<circle class="b" cx="477.1" cy="95.2" r="2.6"/>
<circle class="b" cx="477.9" cy="97.8" r="2.6"/>
<circle class="b" cx="524.8" cy="81.7" r="2.6"/>
<circle class="b" cx="536.2" cy="78.8" r="2.6"/>
<circle class="b" cx="538.8" cy="81.1" r="2.6"/>
<circle class="b" cx="538.0" cy="86.1" r="2.6"/>
<circle class="b" cx="535.1" cy="88.3" r="2.6"/>
<circle class="b" cx="542.3" cy="92.8" r="2.6"/>
<circle class="b" cx="546.2" cy="80.0" r="2.6"/>
<circle class="b" cx="545.7" cy="83.8" r="2.6"/>
<circle class="b" cx="551.5" cy="84.2" r="2.6"/>
<circle class="b" cx="556.2" cy="85.7" r="2.6"/>
<circle class="b" cx="555.3" cy="89.7" r="2.6"/>
<circle class="b" cx="564.8" cy="88.3" r="2.6"/>
<circle class="b" cx="568.8" cy="83.8" r="2.6"/>
<circle class="b" cx="573.9" cy="78.2" r="2.6"/>
<circle class="b" cx="589.8" cy="80.8" r="2.6"/>
<circle class="b" cx="598.1" cy="83.8" r="2.6"/>
<circle class="b" cx="606.0" cy="89.4" r="2.6"/>
<circle class="b" cx="486.1" cy="37.8" r="2.6"/>
<circle class="b" cx="496.8" cy="41.5" r="2.6"/>
<circle class="b" cx="504.2" cy="32.9" r="2.6"/>
<circle class="b" cx="504.6" cy="34.6" r="2.6"/>
<circle class="b" cx="511.2" cy="30.0" r="2.6"/>
<circle class="b" cx="519.2" cy="36.5" r="2.6"/>
<circle class="b" cx="511.7" cy="41.8" r="2.6"/>
<circle class="b" cx="519.6" cy="43.5" r="2.6"/>
<circle class="b" cx="537.8" cy="30.0" r="2.6"/>
<circle class="b" cx="544.7" cy="29.8" r="2.6"/>
<circle class="b" cx="546.5" cy="28.3" r="2.6"/>
<circle class="b" cx="541.2" cy="42.8" r="2.6"/>
<circle class="b" cx="524.0" cy="42.5" r="2.6"/>
<circle class="b" cx="562.0" cy="34.6" r="2.6"/>
<circle class="b" cx="566.8" cy="35.0" r="2.6"/>
<circle class="b" cx="569.7" cy="45.0" r="2.6"/>
<circle class="b" cx="570.8" cy="27.3" r="2.6"/>
<circle class="b" cx="582.0" cy="24.3" r="2.6"/>
<circle class="b" cx="594.5" cy="31.2" r="2.6"/>
<circle class="b" cx="590.0" cy="36.5" r="2.6"/>
<circle class="b" cx="591.8" cy="40.7" r="2.6"/>
<circle class="b" cx="603.9" cy="35.0" r="2.6"/>
<circle class="b" cx="603.9" cy="37.1" r="2.6"/>
<circle class="b" cx="604.8" cy="43.8" r="2.6"/>
<circle class="b" cx="572.2" cy="37.5" r="2.6"/>
<circle class="b" cx="572.2" cy="40.0" r="2.6"/>
<circle class="b" cx="571.8" cy="42.5" r="2.6"/>
<circle class="b" cx="626.3" cy="34.8" r="2.6"/>
<circle class="b" cx="626.1" cy="45.2" r="2.6"/>
<circle class="b" cx="626.9" cy="45.3" r="2.6"/>
<circle class="b" cx="158.3" cy="251.8" r="2.6"/>
<circle class="b" cx="158.8" cy="256.4" r="2.6"/>
<circle class="b" cx="157.5" cy="258.5" r="2.6"/>
<circle class="b" cx="154.6" cy="262.7" r="2.6"/>
<circle class="b" cx="155.8" cy="264.8" r="2.6"/>
<circle class="b" cx="157.9" cy="265.6" r="2.6"/>
<circle class="b" cx="155.0" cy="261.0" r="2.6"/>
<circle class="b" cx="134.2" cy="266.0" r="2.6"/>
<circle class="b" cx="135.8" cy="270.2" r="2.6"/>
<circle class="b" cx="133.8" cy="271.0" r="2.6"/>
<circle class="b" cx="135.0" cy="275.2" r="2.6"/>
<circle class="b" cx="176.6" cy="238.0" r="2.6"/>
<circle class="b" cx="175.4" cy="240.5" r="2.6"/>
<circle class="b" cx="177.9" cy="241.1" r="2.6"/>
<circle class="b" cx="183.5" cy="241.8" r="2.6"/>
<circle class="b" cx="181.6" cy="240.5" r="2.6"/>
<circle class="b" cx="329.9" cy="157.2" r="2.6"/>
<circle class="b" cx="331.1" cy="158.5" r="2.6"/>
<circle class="b" cx="328.6" cy="154.8" r="2.6"/>
<circle class="b" cx="338.0" cy="155.0" r="2.6"/>
<circle class="b" cx="354.8" cy="153.1" r="2.6"/>
<circle class="b" cx="410.2" cy="104.2" r="2.6"/>
<circle class="b" cx="407.8" cy="109.0" r="2.6"/>
<circle class="b" cx="420.9" cy="120.9" r="2.6"/>
<circle class="b" cx="423.4" cy="121.5" r="2.6"/>
<circle class="b" cx="434.6" cy="117.8" r="2.6"/>
<circle class="b" cx="433.4" cy="120.2" r="2.6"/>
<circle class="b" cx="429.0" cy="100.2" r="2.6"/>
<circle class="b" cx="444.6" cy="75.1" r="2.6"/>
<circle class="b" cx="445.9" cy="76.4" r="2.6"/>
<circle class="b" cx="449.0" cy="87.0" r="2.6"/>
<circle class="b" cx="450.9" cy="89.5" r="2.6"/>
<circle class="b" cx="451.8" cy="90.1" r="2.6"/>
<circle class="b" cx="468.0" cy="91.8" r="2.6"/>
<circle class="b" cx="138.1" cy="270.0" r="2.6"/>
<circle class="b" cx="138.8" cy="273.8" r="2.6"/>
<circle class="b" cx="140.0" cy="268.8" r="2.6"/>
<circle class="b" cx="126.9" cy="284.4" r="2.6"/>
<circle class="b" cx="126.0" cy="288.1" r="2.6"/>
<circle class="r" cx="80.0" cy="327.8" r="2.6"/>
<circle class="r" cx="117.0" cy="312.5" r="2.6"/>
<circle class="r" cx="122.5" cy="301.9" r="2.6"/>
<circle class="r" cx="126.6" cy="303.1" r="2.6"/>
<circle class="r" cx="130.1" cy="306.9" r="2.6"/>
<circle class="r" cx="126.9" cy="269.6" r="2.6"/>
<circle class="r" cx="127.5" cy="274.4" r="2.6"/>
<circle class="r" cx="129.1" cy="277.8" r="2.6"/>
<circle class="r" cx="128.8" cy="279.4" r="2.6"/>
<circle class="r" cx="116.9" cy="285.6" r="2.6"/>
<circle class="r" cx="120.0" cy="285.6" r="2.6"/>
<circle class="r" cx="122.8" cy="285.0" r="2.6"/>
<circle class="r" cx="129.4" cy="292.5" r="2.6"/>
<circle class="r" cx="130.0" cy="296.5" r="2.6"/>
<circle class="r" cx="126.2" cy="296.2" r="2.6"/>
<circle class="r" cx="231.2" cy="214.2" r="2.6"/>
<circle class="r" cx="386.5" cy="109.5" r="2.6"/>
<circle class="r" cx="593.1" cy="80.0" r="2.6"/>
<circle class="r" cx="129.2" cy="277.8" r="2.6"/>
<circle class="r" cx="128.8" cy="279.9" r="2.6"/>
<circle class="r" cx="119.2" cy="286.2" r="2.6"/>
<circle class="r" cx="120.4" cy="286.8" r="2.6"/>
<circle class="r" cx="127.5" cy="295.3" r="2.6"/>
<circle class="r" cx="129.6" cy="293.0" r="2.6"/>
</g>
<g stroke="#000" stroke-width="1.25" fill="none">
<line x1="50.65" y1="7.2" x2="50.65" y2="385.4"/>
<line x1="50.0" y1="385.4" x2="664.6" y2="385.4"/>
<line x1="77.75" y1="385.4" x2="77.75" y2="389.3"/><line x1="209.69" y1="385.4" x2="209.69" y2="389.3"/><line x1="341.62" y1="385.4" x2="341.62" y2="389.3"/><line x1="473.56" y1="385.4" x2="473.56" y2="389.3"/><line x1="605.50" y1="385.4" x2="605.50" y2="389.3"/><line x1="46.9" y1="368.20" x2="50.65" y2="368.20"/><line x1="46.9" y1="252.03" x2="50.65" y2="252.03"/><line x1="46.9" y1="135.87" x2="50.65" y2="135.87"/><line x1="46.9" y1="19.70" x2="50.65" y2="19.70"/>
</g>
<g font-size="11.73" fill="#4D4D4D"><text x="77.75" y="401.1" text-anchor="middle">0</text><text x="209.69" y="401.1" text-anchor="middle">5</text><text x="341.62" y="401.1" text-anchor="middle">10</text><text x="473.56" y="401.1" text-anchor="middle">15</text><text x="605.50" y="401.1" text-anchor="middle">20</text><text x="43.8" y="372.80" text-anchor="end">50</text><text x="43.8" y="256.63" text-anchor="end">100</text><text x="43.8" y="140.47" text-anchor="end">150</text><text x="43.8" y="24.30" text-anchor="end">200</text></g>
<text x="357.4" y="417.9" font-size="14.67" text-anchor="middle" fill="#000">age</text>
<text transform="translate(17.8,196.9) rotate(-90)" font-size="14.67" text-anchor="middle" fill="#000">hgt</text>
<g fill-opacity="0.7" stroke-opacity="0.7" stroke-width="0.94">
<circle class="b" cx="510.9" cy="453.9" r="2.6"/>
<circle class="r" cx="596.9" cy="453.9" r="2.6"/>
</g>
<g font-size="11.73" fill="#000">
<text x="529.6" y="458.8">observed</text>
<text x="615.7" y="458.8">imputed</text>
</g>
</svg>
</body></html>
